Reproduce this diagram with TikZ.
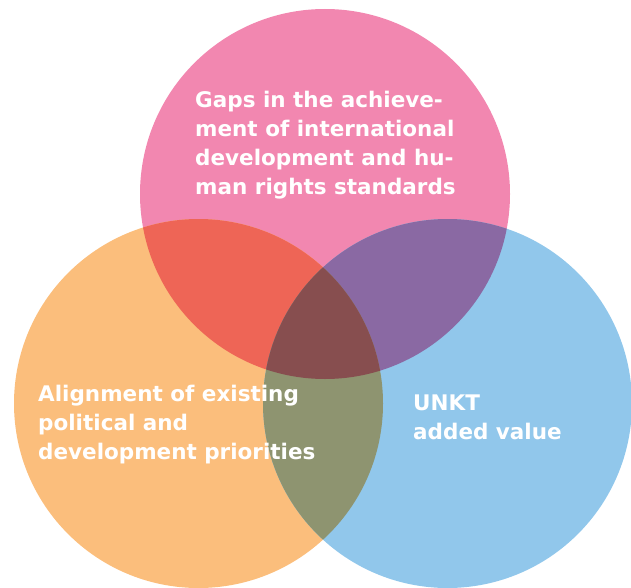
\documentclass[tikz,border=0pt]{standalone}
\usepackage{fontspec}
\setmainfont{DejaVu Sans}
\definecolor{cpink}{HTML}{F287B0}
\definecolor{corange}{HTML}{FBBE7C}
\definecolor{cblue}{HTML}{91C7EB}
\definecolor{cpo}{HTML}{EE6556}
\definecolor{cpb}{HTML}{8A69A3}
\definecolor{cob}{HTML}{8E9470}
\definecolor{call}{HTML}{874E4F}
\begin{document}
\begin{tikzpicture}[x=1pt,y=-1pt,
  lbl/.style={text=white,font=\fontsize{21.5}{29}\selectfont\bfseries,align=left,anchor=north west,inner sep=0pt}]
\useasboundingbox (0,0) rectangle (631,588);
\def\pinkc{(325,194) circle (185)}
\def\orc{(198.5,403.5) circle (184.5)}
\def\blc{(447.5,403.5) circle (184.5)}
\fill[cpink] \pinkc;
\fill[corange] \orc;
\fill[cblue] \blc;
\begin{scope}\clip \pinkc; \fill[cpo] \orc; \end{scope}
\begin{scope}\clip \pinkc; \fill[cpb] \blc; \end{scope}
\begin{scope}\clip \orc; \fill[cob] \blc; \end{scope}
\begin{scope}\clip \pinkc; \clip \orc; \fill[call] \blc; \end{scope}
\node[lbl] (gaps) at (195,91) {Gaps in the achieve-\\ment of international\\development and hu-\\man rights standards};
\node[lbl] (align) at (38,385) {Alignment of existing\\political and\\development priorities};
\node[lbl] (unkt) at (413,395) {UNKT\\added value};
\end{tikzpicture}
\end{document}
